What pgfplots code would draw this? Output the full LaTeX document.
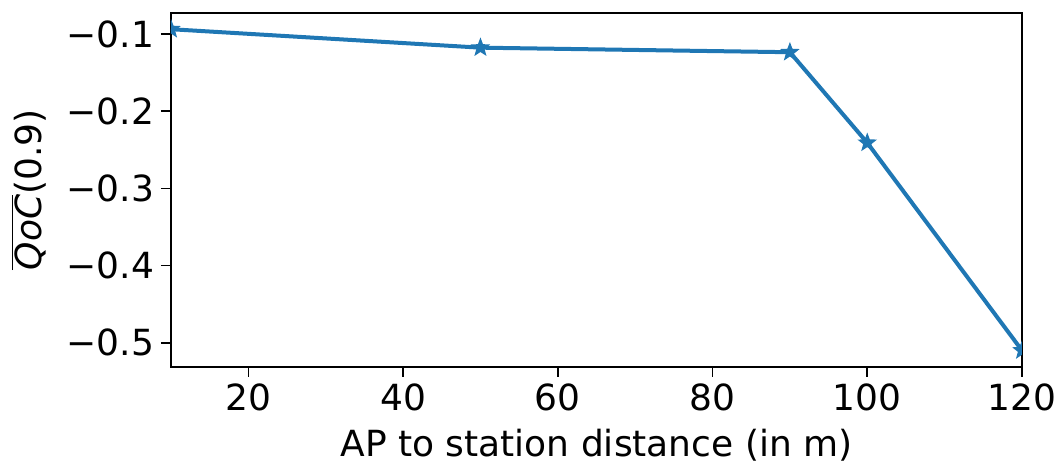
\documentclass[border=0pt]{standalone}
\usepackage{pgfplots}
\pgfplotsset{compat=1.18}
\usepackage{fontspec}
\setmainfont{DejaVu Sans}
\definecolor{mplblue}{HTML}{1F77B4}

% filled five-pointed star, like matplotlib's '*'
\pgfdeclareplotmark{fstar}{%
  \pgfpathmoveto{\pgfpointpolar{90}{\pgfplotmarksize}}%
  \pgfpathlineto{\pgfpointpolar{126}{0.42\pgfplotmarksize}}%
  \pgfpathlineto{\pgfpointpolar{162}{\pgfplotmarksize}}%
  \pgfpathlineto{\pgfpointpolar{198}{0.42\pgfplotmarksize}}%
  \pgfpathlineto{\pgfpointpolar{234}{\pgfplotmarksize}}%
  \pgfpathlineto{\pgfpointpolar{270}{0.42\pgfplotmarksize}}%
  \pgfpathlineto{\pgfpointpolar{306}{\pgfplotmarksize}}%
  \pgfpathlineto{\pgfpointpolar{342}{0.42\pgfplotmarksize}}%
  \pgfpathlineto{\pgfpointpolar{18}{\pgfplotmarksize}}%
  \pgfpathlineto{\pgfpointpolar{54}{0.42\pgfplotmarksize}}%
  \pgfpathclose
  \pgfusepathqfillstroke
}

\begin{document}
\begin{tikzpicture}
\begin{axis}[
    scale only axis,
    width=425.5pt, height=177pt,
    xmin=10, xmax=120,
    ymin=-0.531, ymax=-0.0725,
    xtick={20,40,60,80,100,120},
    ytick={-0.5,-0.4,-0.3,-0.2,-0.1},
    yticklabels={−0.5,−0.4,−0.3,−0.2,−0.1},
    /pgf/number format/assume math mode=true,
    tick align=outside,
    major tick length=5pt,
    tick style={black, line width=0.8pt},
    axis line style={line width=1pt},
    xtick pos=bottom, ytick pos=left,
    ticklabel style={font=\fontsize{18}{21}\selectfont},
    label style={font=\fontsize{18}{21}\selectfont},
    xlabel={AP to station distance (in m)},
    ylabel={$\overline{\mbox{\textit{QoC}}}$(0.9)},
    x label style={at={(axis description cs:0.5,-0.222)}, anchor=center, inner sep=0pt},
    y label style={at={(axis description cs:-0.167,0.5)}, anchor=center, rotate=0},
    clip marker paths=true,
]
% QoC vs distance
\addplot[color=mplblue, line width=2pt, mark=fstar, mark size=4pt,
         mark options={line width=0.8pt, fill=mplblue}] coordinates {
    (10, -0.0939) (50, -0.1178) (90, -0.1237) (100, -0.241) (120, -0.510)
};
\end{axis}
\pgfresetboundingbox
\useasboundingbox (current axis.south west) ++(-85.5pt,-49.5pt) rectangle ([shift={(17.5pt,6.35pt)}]current axis.north east);
\end{tikzpicture}
\end{document}
